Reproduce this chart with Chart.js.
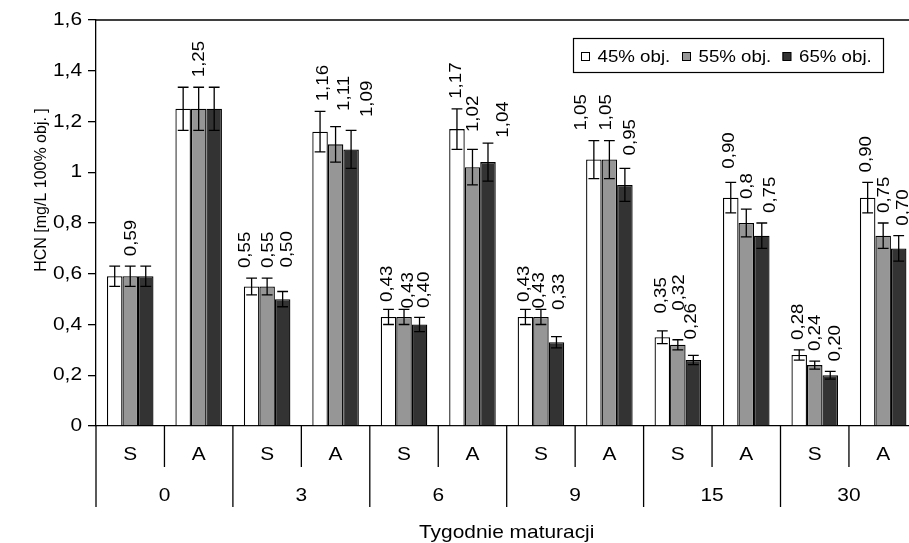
<!DOCTYPE html>
<html><head><meta charset="utf-8">
<script src="https://cdn.jsdelivr.net/npm/chart.js@4.4.1/dist/chart.umd.min.js"></script>
<style>
html,body{margin:0;padding:0;background:#fff;overflow:hidden;width:909px;height:543px}
#wrap{position:absolute;left:0;top:0;width:925px;height:543px}
canvas{display:block}
</style>
</head><body><div id="wrap"><canvas id="c" width="925" height="543"></canvas></div>
<script>
// ---------------- DATA ----------------
const weeks = ["0", "3", "6", "9", "15", "30"];
const categories = ["S","A","S","A","S","A","S","A","S","A","S","A"];
const seriesNames = ["45% obj.", "55% obj.", "65% obj."];
const v45 = [0.59, 1.25, 0.55, 1.16, 0.43, 1.17, 0.43, 1.05, 0.35, 0.90, 0.28, 0.90];
const v55 = [0.59, 1.25, 0.55, 1.11, 0.43, 1.02, 0.43, 1.05, 0.32, 0.80, 0.24, 0.75];
const v65 = [0.59, 1.25, 0.50, 1.09, 0.40, 1.04, 0.33, 0.95, 0.26, 0.75, 0.20, 0.70];
const e45 = [0.04, 0.085, 0.033, 0.08, 0.03, 0.08, 0.03, 0.075, 0.025, 0.06, 0.02, 0.06];
const e55 = [0.04, 0.085, 0.033, 0.07, 0.03, 0.07, 0.03, 0.075, 0.02, 0.055, 0.016, 0.05];
const e65 = [0.04, 0.085, 0.03, 0.075, 0.028, 0.075, 0.022, 0.065, 0.018, 0.05, 0.015, 0.05];
const lab45 = [null, null, "0,55", "1,16", "0,43", "1,17", "0,43", "1,05", "0,35", "0,90", "0,28", "0,90"];
const lab55 = ["0,59", "1,25", "0,55", "1,11", "0,43", "1,02", "0,43", "1,05", "0,32", "0,8", "0,24", "0,75"];
const lab65 = [null, null, "0,50", "1,09", "0,40", "1,04", "0,33", "0,95", "0,26", "0,75", "0,20", "0,70"];
const yTickValues = [0, 0.2, 0.4, 0.6, 0.8, 1.0, 1.2, 1.4, 1.6];
const yTickLabels = ["0", "0,2", "0,4", "0,6", "0,8", "1", "1,2", "1,4", "1,6"];
const yTitle = "HCN [mg/L 100% obj. ]";
const xTitle = "Tygodnie maturacji";

// ---------------- STYLE / LAYOUT ----------------
const FONT = '"Liberation Sans", Arial, Helvetica, sans-serif';
const SX = 1.1; // horizontal text widening along text direction
const colors = ["#ffffff", "#969696", "#333333"];
const labelDx = [-1, 1, 5];
// manual label nudges [dx, dy] keyed "category-series"
const labelNudge = {
  "2-0": [-5, 0], "2-2": [0, -14],
  "3-0": [4.5, 0], "3-1": [7.5, -5.7], "3-2": [11.5, -3.3],
  "4-0": [0, 2.7], "4-1": [3, 9.3], "4-2": [0, 0.6],
  "5-1": [0, -7.3], "5-2": [10.5, 4.6],
  "6-0": [0, 2.7], "6-1": [-2.5, 9.3], "6-2": [-2, -16.7],
  "7-0": [-12, 0], "7-1": [-4.5, 0], "7-2": [0, -3],
  "8-0": [0, -7.3], "8-1": [0, -19], "8-2": [-7, -6],
  "9-0": [0, -3.7], "9-2": [4, 0]
};

function txt(ctx, s, x, y, o) {
  ctx.save();
  ctx.translate(x, y);
  if (o.rot) ctx.rotate(o.rot);
  ctx.scale(o.sx || SX, 1);
  ctx.font = o.font;
  ctx.fillStyle = '#000';
  ctx.textAlign = o.align || 'center';
  ctx.textBaseline = o.base || 'middle';
  ctx.fillText(s, 0, 0);
  ctx.restore();
}

const deco = {
  id: 'deco',
  afterDatasetsDraw(chart) {
    const ctx = chart.ctx, ys = chart.scales.y;
    ctx.save();
    ctx.strokeStyle = '#000';
    ctx.lineWidth = 1.3;
    chart.data.datasets.forEach((ds, di) => {
      const meta = chart.getDatasetMeta(di);
      meta.data.forEach((el, i) => {
        const v = ds.data[i], e = ds.err[i];
        const yt = ys.getPixelForValue(v + e), yb = ys.getPixelForValue(v - e);
        const x = el.x, cw = 5.4;
        ctx.beginPath();
        ctx.moveTo(x, yt); ctx.lineTo(x, yb);
        ctx.moveTo(x - cw, yt); ctx.lineTo(x + cw, yt);
        ctx.moveTo(x - cw, yb); ctx.lineTo(x + cw, yb);
        ctx.stroke();
      });
    });
    ctx.restore();
  },
  afterDraw(chart) {
    const ctx = chart.ctx, xs = chart.scales.x, ys = chart.scales.y, ca = chart.chartArea;
    ctx.save();
    ctx.strokeStyle = '#000';
    ctx.lineWidth = 1.3;
    // plot frame top & right
    ctx.beginPath();
    ctx.moveTo(ca.left, ca.top); ctx.lineTo(ca.right, ca.top); ctx.lineTo(ca.right, ca.bottom);
    ctx.stroke();
    // category separators
    for (let b = 0; b <= categories.length; b++) {
      const x = xs.getPixelForValue(b - 0.5);
      const long = (b % 2 === 0);
      ctx.beginPath();
      ctx.moveTo(x, ca.bottom);
      ctx.lineTo(x, long ? 507 : 467);
      ctx.stroke();
    }
    // y tick labels
    yTickValues.forEach((v, i) => {
      txt(ctx, yTickLabels[i], 82, ys.getPixelForValue(v), {font: '19px ' + FONT, align: 'right'});
    });
    // category labels
    categories.forEach((c, i) => {
      txt(ctx, c, xs.getPixelForValue(i), 455, {font: '19px ' + FONT});
    });
    // group labels
    weeks.forEach((w, g) => {
      txt(ctx, w, xs.getPixelForValue(2 * g + 0.5), 496, {font: '19px ' + FONT});
    });
    // axis titles
    txt(ctx, xTitle, (xs.left + xs.right) / 2, 533, {font: '19px ' + FONT});
    txt(ctx, yTitle, 42, 190, {font: '16px ' + FONT, rot: -Math.PI / 2, sx: 1.0});
    // data labels
    chart.data.datasets.forEach((ds, di) => {
      const meta = chart.getDatasetMeta(di);
      meta.data.forEach((el, i) => {
        const s = ds.dl[i];
        if (!s) return;
        const n = labelNudge[i + '-' + di] || [0, 0];
        const x = el.x + labelDx[di] + n[0];
        const y = ys.getPixelForValue(ds.data[i] + ds.err[i]) - 10 + n[1];
        txt(ctx, s, x, y, {font: '17px ' + FONT, rot: -Math.PI / 2, align: 'left'});
      });
    });
    // legend
    ctx.lineWidth = 1.2;
    ctx.strokeRect(573.5, 38.5, 310, 34);
    const lx = [581, 682, 782.5];
    chart.data.datasets.forEach((ds, di) => {
      ctx.fillStyle = ds.backgroundColor;
      ctx.fillRect(lx[di], 52, 8.5, 8.5);
      ctx.lineWidth = 1;
      ctx.strokeRect(lx[di] + 0.5, 52.5, 8, 8);
      txt(ctx, ds.label, lx[di] + 16.5, 57, {font: '17px ' + FONT, align: 'left'});
    });
    ctx.restore();
  }
};

const ctx = document.getElementById('c').getContext('2d');
const series = [[v45, e45, lab45], [v55, e55, lab55], [v65, e65, lab65]];
new Chart(ctx, {
  type: 'bar',
  data: {
    labels: categories,
    datasets: series.map((s, i) => ({
      label: seriesNames[i], data: s[0], err: s[1], dl: s[2],
      backgroundColor: colors[i], borderColor: '#000', borderWidth: 1.3,
      categoryPercentage: 0.68, barPercentage: 1.0
    }))
  },
  options: {
    responsive: false, animation: false, devicePixelRatio: 1,
    layout: {padding: {top: 20, right: 7.6, bottom: 0, left: 0}},
    plugins: {legend: {display: false}, tooltip: {enabled: false}, title: {display: false}},
    scales: {
      x: {
        offset: true,
        grid: {display: false},
        border: {display: true, color: '#000', width: 1.3},
        ticks: {display: false},
        afterFit(s) { s.height = 117; }
      },
      y: {
        min: 0, max: 1.6,
        ticks: {display: false, stepSize: 0.2},
        grid: {drawOnChartArea: false, drawTicks: true, tickLength: 8, color: '#000', lineWidth: 1.3},
        border: {display: true, color: '#000', width: 1.3},
        afterFit(s) { s.width = 96; }
      }
    }
  },
  plugins: [deco]
});
</script>
</body></html>
